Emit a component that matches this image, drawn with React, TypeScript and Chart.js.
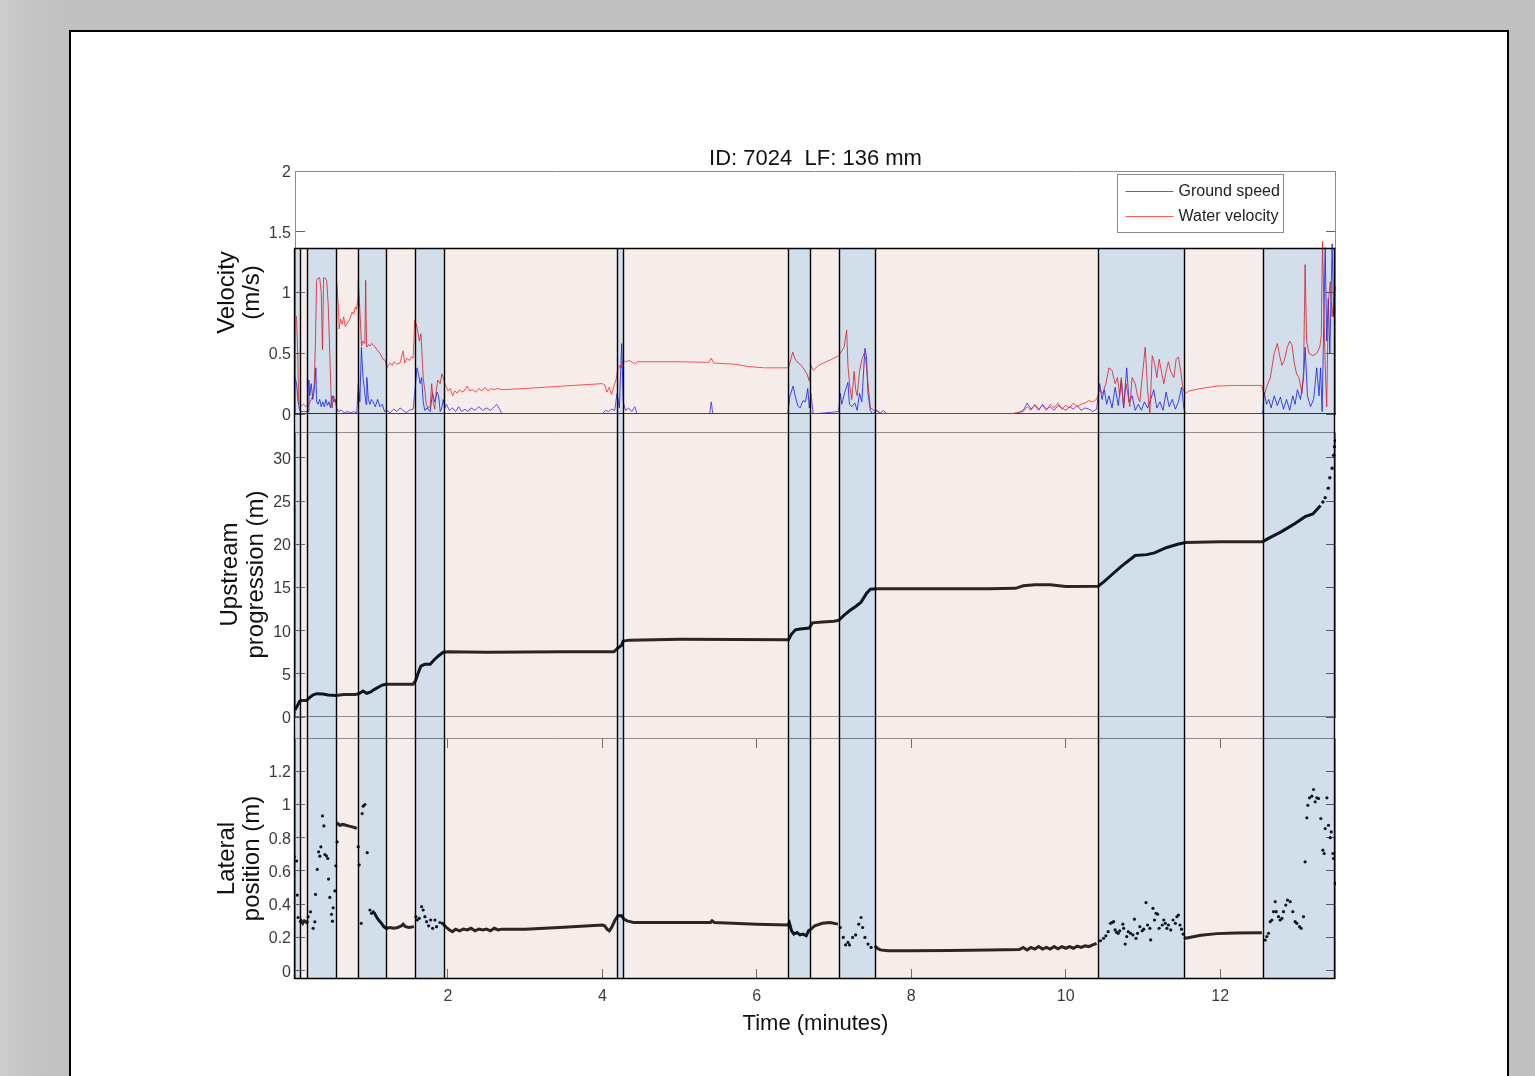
import React, { useEffect, useRef } from "react";
import { Chart, registerables } from "chart.js";

Chart.register(...registerables);

// ---------------- data ----------------
const chartTitle = "ID: 7024  LF: 136 mm";
const legendLabels = ["Ground speed", "Water velocity"];
const velocityTitle = ["Velocity", "(m/s)"];
const upstreamTitle = ["Upstream", "progression (m)"];
const lateralTitle = ["Lateral", "position (m)"];
const timeTitle = "Time (minutes)";

const timeRange = [0.02, 13.5];
const velocityRange = [0, 2];
const upstreamRange = [0, 33];
const lateralRange = [-0.05, 1.4];

const timeTicks = [2, 4, 6, 8, 10, 12];
const velocityTicks = [0, 0.5, 1, 1.5, 2];
const upstreamTicks = [0, 5, 10, 15, 20, 25, 30];
const lateralTicks = [0, 0.2, 0.4, 0.6, 0.8, 1, 1.2];

// behaviour phases (minutes): alternating swimming (blue) / holding (pink)
const bandEdges = [0.01, 0.087, 0.18, 0.55, 0.83, 1.2, 1.58, 1.95, 4.19, 4.27, 6.41, 6.69, 7.06, 7.53, 10.42, 11.53, 12.55, 13.48];
const bandKinds = ["swim", "hold", "swim", "hold", "swim", "hold", "swim", "hold", "swim", "hold", "swim", "hold", "swim", "hold", "swim", "hold", "swim"];
const bandTopVelocity = 1.366;

const groundSpeed: [number, number][] = [
  [0.02, 0.3], [0.04, 0.25], [0.06, 0.1], [0.08, 0.03], [0.1, 0.02], [0.15, 0.02], [0.19, 0.02], [0.2, 0.28], [0.21, 0.15], [0.23, 0.25], [0.25, 0.12], [0.27, 0.2], [0.29, 0.38], [0.3, 0.1], [0.32, 0.08], [0.34, 0.12], [0.36, 0.06], [0.38, 0.1], [0.4, 0.06], [0.42, 0.12], [0.44, 0.07], [0.46, 0.1], [0.48, 0.05], [0.5, 0.15], [0.52, 0.1], [0.54, 0.12], [0.56, 0.05],
  [0.58, 0.02], [0.62, 0.03], [0.66, 0.01], [0.7, 0.02], [0.74, 0.01], [0.78, 0.02], [0.82, 0.01], [0.84, 0.25], [0.86, 0.1], [0.88, 0.55], [0.9, 0.3], [0.92, 0.2], [0.94, 0.08], [0.95, 0.3], [0.97, 0.12], [0.99, 0.08], [1.01, 0.12], [1.03, 0.1], [1.06, 0.06], [1.09, 0.12], [1.12, 0.06], [1.15, 0.08], [1.18, 0.02],
  [1.21, 0.03], [1.25, 0.01], [1.3, 0.04], [1.34, 0.02], [1.38, 0.05], [1.42, 0.03], [1.46, 0.01], [1.5, 0.03], [1.55, 0.04], [1.57, 0.17], [1.6, 0.38], [1.62, 0.33], [1.64, 0.25], [1.66, 0.3], [1.68, 0.1], [1.7, 0.03], [1.73, 0.05], [1.77, 0.02], [1.8, 0.17], [1.83, 0.1], [1.86, 0.18], [1.88, 0.15], [1.9, 0.02], [1.92, 0.05], [1.94, 0.12], [1.96, 0.05], [1.98, 0.08],
  [2.02, 0.03], [2.06, 0.05], [2.1, 0.02], [2.14, 0.06], [2.18, 0.02], [2.22, 0.04], [2.26, 0.02], [2.3, 0.05], [2.35, 0.03], [2.4, 0.06], [2.45, 0.03], [2.5, 0.05], [2.55, 0.03], [2.6, 0.06], [2.63, 0.08], [2.67, 0.04], [2.7, 0], [4.0, 0], [4.04, 0.03], [4.08, 0.02], [4.12, 0.04], [4.16, 0.03], [4.19, 0.17], [4.22, 0.05], [4.25, 0.58], [4.27, 0.1], [4.3, 0.03], [4.34, 0.05], [4.38, 0.02], [4.42, 0.06], [4.45, 0],
  [5.39, 0], [5.41, 0.1], [5.43, 0], [6.4, 0], [6.43, 0.15], [6.47, 0.23], [6.5, 0.14], [6.53, 0.07], [6.56, 0.05], [6.6, 0.11], [6.63, 0.1], [6.66, 0.21], [6.68, 0.05], [6.7, 0.17], [6.73, 0], [7.06, 0.02], [7.08, 0.17], [7.1, 0.08], [7.14, 0.18], [7.18, 0.26], [7.2, 0.08], [7.23, 0.06], [7.27, 0.09], [7.3, 0.03], [7.33, 0.17], [7.36, 0.1], [7.4, 0.54], [7.42, 0.47], [7.44, 0.17], [7.47, 0.03], [7.5, 0], [7.55, 0.03], [7.6, 0.01], [7.64, 0.03], [7.68, 0],
  [9.35, 0], [9.45, 0.03], [9.5, 0.09], [9.55, 0.04], [9.6, 0.07], [9.65, 0.03], [9.7, 0.08], [9.75, 0.04], [9.8, 0.06], [9.85, 0.03], [9.9, 0.07], [9.95, 0.05], [10.0, 0.03], [10.05, 0.06], [10.1, 0.04], [10.15, 0.07], [10.2, 0.03], [10.25, 0.05], [10.3, 0.04], [10.35, 0.02], [10.4, 0.04],
  [10.44, 0.25], [10.47, 0.12], [10.5, 0.2], [10.53, 0.08], [10.56, 0.15], [10.6, 0.05], [10.64, 0.22], [10.68, 0.07], [10.72, 0.28], [10.75, 0.05], [10.79, 0.38], [10.82, 0.1], [10.86, 0.15], [10.9, 0.03], [10.94, 0.08], [10.98, 0.03], [11.02, 0.1], [11.06, 0.05], [11.1, 0.12], [11.14, 0.2], [11.18, 0.05], [11.22, 0.1], [11.26, 0.03], [11.3, 0.18], [11.34, 0.06], [11.38, 0.12], [11.42, 0.04], [11.46, 0.1], [11.5, 0.22], [11.53, 0.05], [11.55, 0],
  [12.55, 0], [12.57, 0.18], [12.6, 0.08], [12.63, 0.12], [12.66, 0.05], [12.7, 0.15], [12.74, 0.07], [12.78, 0.14], [12.82, 0.04], [12.86, 0.12], [12.9, 0.03], [12.94, 0.15], [12.97, 0.08], [13.0, 0.2], [13.04, 0.12], [13.08, 0.3], [13.1, 0.55], [13.13, 0.15], [13.17, 0.06], [13.21, 0.12], [13.25, 0.38], [13.28, 0.15], [13.3, 0.38], [13.32, 0.02], [13.36, 1.37], [13.38, 0.6], [13.4, 0.95], [13.42, 0.5], [13.45, 1.4], [13.47, 0.8], [13.49, 1.05],
];

const waterVelocity: [number, number][] = [
  [0.02, 0.82], [0.04, 0.8], [0.055, 0.5], [0.07, 0.09], [0.1, 0.07], [0.13, 0.08], [0.16, 0.06], [0.2, 0.08], [0.23, 0.12], [0.25, 0.15], [0.27, 0.25], [0.285, 0.6], [0.3, 1.1], [0.32, 1.12], [0.34, 1.12], [0.36, 1.0], [0.376, 0.53], [0.39, 1.12], [0.41, 1.12], [0.43, 1.1], [0.45, 0.9], [0.47, 0.5], [0.49, 0.1], [0.5, 0.05], [0.52, 0.15], [0.54, 0.1], [0.556, 0.12],
  [0.56, 1.08], [0.58, 0.9], [0.592, 0.7], [0.61, 0.78], [0.63, 0.74], [0.65, 0.8], [0.67, 0.72], [0.7, 0.75], [0.73, 0.78], [0.76, 0.84], [0.78, 0.82], [0.8, 0.88], [0.817, 0.86],
  [0.835, 0.95], [0.84, 1.1], [0.86, 0.85], [0.882, 0.56], [0.9, 0.6], [0.925, 0.58], [0.935, 1.1], [0.947, 0.55], [0.97, 0.57], [0.99, 0.56], [1.01, 0.58], [1.03, 0.57], [1.06, 0.55], [1.09, 0.52], [1.12, 0.5], [1.16, 0.45], [1.19, 0.44],
  [1.21, 0.38], [1.25, 0.42], [1.28, 0.4], [1.3, 0.43], [1.34, 0.41], [1.38, 0.42], [1.42, 0.52], [1.44, 0.42], [1.47, 0.46], [1.5, 0.44], [1.53, 0.47], [1.55, 0.46],
  [1.57, 0.77], [1.59, 0.74], [1.61, 0.68], [1.63, 0.6], [1.65, 0.66], [1.66, 0.55], [1.68, 0.3], [1.7, 0.2], [1.72, 0.08], [1.74, 0.05], [1.77, 0.06], [1.79, 0.25], [1.81, 0.1], [1.83, 0.04], [1.85, 0.2], [1.87, 0.28], [1.9, 0.25], [1.92, 0.33], [1.94, 0.3],
  [1.96, 0.25], [1.98, 0.22], [2.0, 0.19], [2.03, 0.21], [2.06, 0.15], [2.09, 0.19], [2.12, 0.17], [2.15, 0.2], [2.18, 0.18], [2.21, 0.19], [2.25, 0.23], [2.28, 0.19], [2.32, 0.2], [2.36, 0.18], [2.4, 0.21], [2.44, 0.19], [2.48, 0.22], [2.52, 0.19], [2.56, 0.21], [2.6, 0.2], [2.65, 0.21], [2.7, 0.2], [3.0, 0.21], [3.5, 0.23], [4.0, 0.25],
  [4.03, 0.24], [4.06, 0.18], [4.09, 0.22], [4.12, 0.16], [4.15, 0.23], [4.18, 0.29], [4.2, 0.37], [4.23, 0.4], [4.25, 0.38], [4.27, 0.44], [4.3, 0.43], [4.34, 0.44], [4.38, 0.43], [4.42, 0.41], [4.45, 0.43], [5.0, 0.43], [5.38, 0.425], [5.41, 0.46], [5.44, 0.42], [5.7, 0.41], [5.9, 0.39], [6.1, 0.38], [6.41, 0.38],
  [6.44, 0.45], [6.465, 0.51], [6.49, 0.46], [6.52, 0.43], [6.56, 0.41], [6.6, 0.38], [6.65, 0.33], [6.68, 0.27], [6.7, 0.4], [6.73, 0.36], [6.8, 0.4], [6.9, 0.43], [7.0, 0.46], [7.06, 0.48], [7.1, 0.52], [7.13, 0.55], [7.164, 0.69], [7.18, 0.4], [7.2, 0.25], [7.23, 0.12], [7.26, 0.35], [7.28, 0.2], [7.3, 0.15], [7.33, 0.35], [7.36, 0.45], [7.39, 0.5], [7.41, 0.45], [7.44, 0.25], [7.47, 0.05], [7.52, 0.03], [7.56, 0.02], [7.6, 0.01], [7.65, 0],
  [9.3, 0], [9.35, 0.01], [9.45, 0.02], [9.5, 0.06], [9.55, 0.03], [9.6, 0.08], [9.65, 0.04], [9.7, 0.07], [9.75, 0.03], [9.8, 0.08], [9.85, 0.05], [9.9, 0.09], [9.95, 0.04], [10.0, 0.07], [10.05, 0.05], [10.1, 0.09], [10.15, 0.06], [10.2, 0.08], [10.25, 0.09], [10.3, 0.11], [10.35, 0.1], [10.4, 0.12],
  [10.44, 0.2], [10.48, 0.17], [10.52, 0.25], [10.56, 0.38], [10.6, 0.36], [10.64, 0.25], [10.67, 0.3], [10.7, 0.15], [10.72, 0.3], [10.75, 0.05], [10.78, 0.25], [10.8, 0.18], [10.83, 0.06], [10.86, 0.3], [10.9, 0.25], [10.93, 0.15], [10.96, 0.1], [10.99, 0.3], [11.03, 0.55], [11.06, 0.2], [11.09, 0], [11.12, 0.48], [11.15, 0.42], [11.18, 0.3], [11.21, 0.45], [11.24, 0.35], [11.27, 0.25], [11.3, 0.35], [11.33, 0.43], [11.36, 0.35], [11.4, 0.3], [11.43, 0.45], [11.46, 0.47], [11.49, 0.35], [11.52, 0.2],
  [11.55, 0.17], [11.6, 0.19], [11.75, 0.21], [11.96, 0.23], [12.2, 0.235], [12.54, 0.235],
  [12.57, 0.15], [12.6, 0.22], [12.65, 0.3], [12.7, 0.5], [12.74, 0.58], [12.77, 0.48], [12.8, 0.4], [12.83, 0.44], [12.87, 0.55], [12.9, 0.6], [12.93, 0.57], [12.96, 0.42], [12.99, 0.33], [13.02, 0.3], [13.06, 0.17], [13.08, 0.35], [13.1, 1.23], [13.12, 0.6], [13.15, 0.5], [13.2, 0.48], [13.25, 0.5], [13.29, 0.55], [13.31, 0.65], [13.325, 1.42], [13.34, 1.0], [13.36, 0.4], [13.38, 0.06], [13.4, 0.9], [13.425, 1.09], [13.45, 0.8], [13.47, 0.95], [13.49, 0.85],
];

const upstreamTrack: [number, number][] = [
  [0.02, 0.8], [0.05, 1.3], [0.08, 1.8], [0.1, 1.9], [0.17, 1.9], [0.2, 2.2], [0.25, 2.55], [0.3, 2.7], [0.38, 2.65], [0.45, 2.55], [0.55, 2.5], [0.65, 2.6], [0.8, 2.6], [0.85, 2.7], [0.9, 3.0], [0.95, 2.75], [1.0, 2.9], [1.05, 3.2], [1.15, 3.7], [1.2, 3.8], [1.55, 3.8],
  [1.58, 4.2], [1.62, 5.2], [1.65, 5.9], [1.7, 6.1], [1.77, 6.1], [1.82, 6.6], [1.88, 7.1], [1.94, 7.5], [2.0, 7.55], [2.5, 7.5], [3.5, 7.55], [4.15, 7.55], [4.2, 8.0], [4.25, 8.3], [4.27, 8.8], [4.35, 8.9], [5.0, 9.0], [6.41, 8.95],
  [6.45, 9.6], [6.5, 10.1], [6.56, 10.2], [6.68, 10.3], [6.72, 10.9], [6.85, 11.0], [7.0, 11.1], [7.06, 11.2], [7.12, 11.7], [7.2, 12.3], [7.28, 12.8], [7.35, 13.3], [7.42, 14.3], [7.47, 14.8], [7.55, 14.85], [9.0, 14.85], [9.35, 14.9], [9.45, 15.2], [9.6, 15.3], [9.8, 15.3], [10.0, 15.1], [10.42, 15.15],
  [10.5, 15.7], [10.6, 16.5], [10.7, 17.3], [10.8, 18.0], [10.9, 18.7], [11.05, 18.8], [11.15, 19.0], [11.3, 19.6], [11.45, 20.0], [11.55, 20.2], [12.0, 20.3], [12.55, 20.3], [12.65, 20.8], [12.8, 21.5], [12.95, 22.3], [13.1, 23.2], [13.2, 23.5], [13.25, 24.0], [13.3, 24.5],
];
const upstreamDots: [number, number][] = [
  [13.33, 24.9], [13.36, 25.4], [13.4, 26.5], [13.42, 27.7], [13.45, 28.8], [13.47, 30.3], [13.48, 31.3], [13.49, 32.0],
];

const lateralTrack: [number, number | null][] = [
  [0.08, 0.29], [0.1, 0.3], [0.12, 0.285], [0.14, 0.3], [0.17, 0.29], [0.19, 0.3], [0.2, null],
  [0.56, 0.89], [0.6, 0.875], [0.64, 0.88], [0.68, 0.875], [0.72, 0.87], [0.76, 0.865], [0.8, 0.86], [0.82, 0.855], [0.83, null],
  [1.02, 0.36], [1.05, 0.345], [1.08, 0.32], [1.11, 0.3], [1.14, 0.285], [1.17, 0.265], [1.2, 0.255], [1.25, 0.26], [1.3, 0.255], [1.35, 0.26], [1.4, 0.27], [1.42, 0.28], [1.45, 0.265], [1.5, 0.26], [1.56, 0.265], [1.58, null],
  [1.94, 0.28], [1.98, 0.26], [2.02, 0.245], [2.06, 0.235], [2.1, 0.25], [2.15, 0.24], [2.2, 0.25], [2.25, 0.245], [2.3, 0.255], [2.35, 0.24], [2.4, 0.25], [2.45, 0.245], [2.5, 0.25], [2.55, 0.24], [2.6, 0.255], [2.65, 0.245], [2.7, 0.25], [3.0, 0.25], [3.5, 0.262], [4.0, 0.275],
  [4.03, 0.27], [4.06, 0.25], [4.09, 0.24], [4.12, 0.26], [4.16, 0.3], [4.2, 0.33], [4.25, 0.33], [4.28, 0.31], [4.32, 0.3], [4.36, 0.295], [4.4, 0.29], [5.4, 0.29], [5.42, 0.3], [5.45, 0.29], [6.0, 0.28], [6.4, 0.275],
  [6.42, 0.29], [6.45, 0.24], [6.48, 0.22], [6.52, 0.23], [6.56, 0.215], [6.6, 0.22], [6.64, 0.21], [6.67, 0.24], [6.7, 0.25], [6.75, 0.27], [6.85, 0.285], [6.95, 0.29], [7.05, 0.28], [7.06, null],
  [7.53, 0.15], [7.56, 0.135], [7.6, 0.125], [7.7, 0.12], [8.0, 0.12], [8.5, 0.122], [9.0, 0.125], [9.4, 0.127], [9.45, 0.14], [9.5, 0.125], [9.55, 0.14], [9.6, 0.13], [9.65, 0.145], [9.7, 0.13], [9.75, 0.14], [9.8, 0.13], [9.85, 0.145], [9.9, 0.132], [9.95, 0.145], [10.0, 0.135], [10.05, 0.145], [10.1, 0.135], [10.15, 0.148], [10.2, 0.14], [10.25, 0.15], [10.3, 0.145], [10.35, 0.155], [10.4, 0.165], [10.42, null],
  [11.53, 0.2], [11.56, 0.195], [11.6, 0.2], [11.75, 0.213], [11.96, 0.223], [12.2, 0.227], [12.54, 0.228],
];

const lateralDots: [number, number][] = [
  [0.01, 0.685], [0.04, 0.66], [0.05, 0.455], [0.06, 0.32],
  [0.19, 0.324], [0.221, 0.354], [0.255, 0.255], [0.277, 0.294], [0.286, 0.459], [0.308, 0.609], [0.325, 0.715], [0.342, 0.689], [0.355, 0.745], [0.376, 0.931], [0.394, 0.871], [0.407, 0.699], [0.428, 0.69], [0.445, 0.675], [0.454, 0.551], [0.471, 0.441], [0.493, 0.339], [0.505, 0.298], [0.514, 0.378], [0.536, 0.48], [0.549, 0.631], [0.566, 0.775],
  [0.838, 0.745], [0.851, 0.637], [0.877, 0.285], [0.89, 0.945], [0.903, 0.99], [0.925, 1.0], [0.955, 0.71], [0.99, 0.365], [1.011, 0.345],
  [1.585, 0.325], [1.603, 0.305], [1.629, 0.315], [1.659, 0.385], [1.68, 0.365], [1.702, 0.325], [1.724, 0.295], [1.75, 0.27], [1.776, 0.305], [1.802, 0.255], [1.832, 0.305], [1.853, 0.265], [1.896, 0.29], [1.93, 0.285],
  [7.08, 0.26], [7.12, 0.2], [7.15, 0.155], [7.18, 0.17], [7.2, 0.155], [7.24, 0.2], [7.28, 0.215], [7.32, 0.28], [7.35, 0.32], [7.37, 0.26], [7.4, 0.2], [7.44, 0.16], [7.48, 0.14],
  [10.45, 0.18], [10.49, 0.195], [10.52, 0.21], [10.55, 0.235], [10.58, 0.285], [10.6, 0.29], [10.62, 0.295], [10.64, 0.245], [10.66, 0.23], [10.68, 0.225], [10.7, 0.24], [10.74, 0.28], [10.75, 0.255], [10.77, 0.16], [10.79, 0.205], [10.81, 0.235], [10.84, 0.225], [10.87, 0.215], [10.89, 0.31], [10.91, 0.195], [10.93, 0.225], [10.96, 0.265], [10.99, 0.24], [11.01, 0.25], [11.04, 0.41], [11.06, 0.275], [11.09, 0.255], [11.1, 0.185], [11.13, 0.375], [11.15, 0.305], [11.17, 0.345], [11.19, 0.34], [11.21, 0.255], [11.25, 0.275], [11.27, 0.305], [11.29, 0.285], [11.31, 0.255], [11.33, 0.275], [11.36, 0.245], [11.39, 0.305], [11.42, 0.285], [11.44, 0.325], [11.46, 0.335], [11.48, 0.275], [11.5, 0.25], [11.52, 0.22],
  [12.583, 0.184], [12.604, 0.205], [12.626, 0.225], [12.648, 0.295], [12.67, 0.305], [12.691, 0.355], [12.713, 0.415], [12.726, 0.355], [12.756, 0.325], [12.777, 0.305], [12.799, 0.315], [12.82, 0.355], [12.85, 0.395], [12.872, 0.425], [12.907, 0.415], [12.941, 0.355], [12.971, 0.295], [12.993, 0.285], [13.028, 0.265], [13.049, 0.255], [13.079, 0.325],
  [13.1, 0.655], [13.122, 0.92], [13.135, 0.995], [13.157, 1.04], [13.187, 1.05], [13.209, 1.09], [13.23, 1.016], [13.252, 1.04], [13.274, 1.036], [13.304, 0.915], [13.33, 0.725], [13.347, 0.705], [13.36, 0.855], [13.382, 1.04], [13.403, 0.875], [13.425, 0.8], [13.438, 0.835], [13.46, 0.705], [13.468, 0.675], [13.49, 0.525],
];

// ---------------- styles ----------------
const FONT = '"Liberation Sans", Arial, Helvetica, sans-serif';
const TICK_TEXT = "#3a3a3a";
const TICK_MARK = "#606060";
const FRAME = "#8a8a8a";
const GROUND_COLOR = "rgba(20,20,255,0.8)";
const WATER_COLOR = "rgba(255,20,20,0.8)";
const LEGEND_COLORS = ["rgba(60,60,255,0.85)", "rgba(255,60,60,0.85)"];
const TRACK_COLOR = "#0c0c0c";
const SWIM_FILL = "rgba(11,72,144,0.18)";
const HOLD_FILL = "rgba(205,149,138,0.18)";
const PAGE_W = 1535;

const pts = (arr: [number, number | null][]) => arr.map(([x, y]) => ({ x, y }));
const fmt = (v: number) => String(Math.round(Number(v) * 100) / 100);

function bandsPlugin(getTop: (c: any) => number, getBottom: (c: any) => number, topLine: boolean, bottomLine: boolean) {
  return {
    id: "phaseBands",
    afterDatasetsDraw(chart: any) {
      const { ctx } = chart;
      const xs = chart.scales.x;
      const y0 = getTop(chart);
      const y1 = getBottom(chart);
      ctx.save();
      for (let i = 0; i < bandKinds.length; i++) {
        const a = xs.getPixelForValue(bandEdges[i]);
        const b = xs.getPixelForValue(bandEdges[i + 1]);
        ctx.fillStyle = bandKinds[i] === "swim" ? SWIM_FILL : HOLD_FILL;
        ctx.fillRect(a, y0, b - a, y1 - y0);
      }
      ctx.strokeStyle = "#000";
      ctx.lineWidth = 1.4;
      ctx.beginPath();
      for (const e of bandEdges) {
        const x = Math.round(xs.getPixelForValue(e)) + 0.5;
        ctx.moveTo(x, y0);
        ctx.lineTo(x, y1);
      }
      const xa = xs.getPixelForValue(bandEdges[0]);
      const xb = xs.getPixelForValue(bandEdges[bandEdges.length - 1]);
      if (topLine) {
        ctx.moveTo(xa, Math.round(y0) + 0.5);
        ctx.lineTo(xb + 1, Math.round(y0) + 0.5);
      }
      if (bottomLine) {
        ctx.moveTo(xa, Math.round(y1) - 0.5);
        ctx.lineTo(xb + 1, Math.round(y1) - 0.5);
      }
      ctx.stroke();
      ctx.restore();
    },
  };
}

function framePlugin(bottomColor: string) {
  return {
    id: "axesFrame",
    beforeDatasetsDraw(chart: any) {
      const { ctx, chartArea } = chart;
      const { left, right, top, bottom } = chartArea;
      ctx.save();
      ctx.lineWidth = 1;
      ctx.strokeStyle = FRAME;
      ctx.beginPath();
      ctx.moveTo(Math.round(left) + 0.5, bottom);
      ctx.lineTo(Math.round(left) + 0.5, Math.round(top) + 0.5);
      ctx.lineTo(Math.round(right) - 0.5, Math.round(top) + 0.5);
      ctx.lineTo(Math.round(right) - 0.5, bottom);
      ctx.stroke();
      ctx.strokeStyle = bottomColor;
      ctx.beginPath();
      ctx.moveTo(left, Math.round(bottom) - 0.5);
      ctx.lineTo(right, Math.round(bottom) - 0.5);
      ctx.stroke();
      ctx.restore();
    },
  };
}

const legendPlugin = {
  id: "boxLegend",
  afterDraw(chart: any) {
    const { ctx, chartArea } = chart;
    const w = 166;
    const h = 58;
    const left = Math.round(chartArea.right - 53 - w) + 0.5;
    const top = Math.round(chartArea.top + 3) + 0.5;
    ctx.save();
    ctx.fillStyle = "#fff";
    ctx.fillRect(left, top, w, h);
    ctx.strokeStyle = "#8a8a8a";
    ctx.lineWidth = 1;
    ctx.strokeRect(left, top, w, h);
    ctx.font = `16px ${FONT}`;
    ctx.textBaseline = "middle";
    legendLabels.forEach((label, i) => {
      const y = Math.round(top + 16 + i * 25.5) + 0.5;
      ctx.strokeStyle = LEGEND_COLORS[i];
      ctx.lineWidth = 1;
      ctx.beginPath();
      ctx.moveTo(left + 8, y);
      ctx.lineTo(left + 56, y);
      ctx.stroke();
      ctx.fillStyle = "#222";
      ctx.fillText(label, left + 61, y);
    });
    ctx.restore();
  },
};

function tickList(values: number[]) {
  return (s: any) => {
    s.ticks = values.map((value) => ({ value }));
  };
}

function leftAxis(range: number[], ticks: number[], title: string[], lineHeight: number, titlePad: number) {
  return {
    type: "linear",
    position: "left",
    min: range[0],
    max: range[1],
    afterBuildTicks: tickList(ticks),
    afterFit: (s: any) => {
      s.width = 100;
      s.paddingTop = 0;
      s.paddingBottom = 0;
    },
    ticks: { font: { family: FONT, size: 16 }, color: TICK_TEXT, padding: 14, labelOffset: 1.5, callback: (v: any) => fmt(v) },
    grid: { drawOnChartArea: false, tickLength: -10, color: TICK_MARK },
    border: { display: false },
    title: {
      display: true,
      text: title,
      color: "#111",
      font: { family: FONT, size: 24, lineHeight },
      padding: { top: titlePad, bottom: 0 },
    },
  };
}

function rightAxis(range: number[], ticks: number[]) {
  return {
    type: "linear",
    position: "right",
    min: range[0],
    max: range[1],
    afterBuildTicks: tickList(ticks),
    afterFit: (s: any) => {
      s.width = 10;
      s.paddingTop = 0;
      s.paddingBottom = 0;
    },
    ticks: { display: false },
    grid: { drawOnChartArea: false, tickLength: -10, color: TICK_MARK },
    border: { display: false },
  };
}

const hiddenX = { type: "linear", min: timeRange[0], max: timeRange[1], display: false };

const baseOptions = (padding: any) => ({
  animation: false,
  responsive: false,
  events: [],
  layout: { padding },
});

function velocityConfig(): any {
  return {
    type: "line",
    data: {
      datasets: [
        { label: legendLabels[1], data: pts(waterVelocity), borderColor: WATER_COLOR, borderWidth: 1, pointRadius: 0, tension: 0, order: 0 },
        { label: legendLabels[0], data: pts(groundSpeed), borderColor: GROUND_COLOR, borderWidth: 1, pointRadius: 0, tension: 0, order: 1 },
      ],
    },
    options: {
      ...baseOptions({ top: 0, left: 195, right: 189, bottom: 9 }),
      scales: {
        x: hiddenX,
        y: leftAxis(velocityRange, velocityTicks, velocityTitle, 1.05, 20),
        yRight: rightAxis(velocityRange, velocityTicks),
      },
      plugins: {
        legend: { display: false },
        tooltip: { enabled: false },
        title: {
          display: true,
          text: chartTitle,
          fullSize: false,
          color: "#111",
          font: { family: FONT, size: 22, weight: "normal", lineHeight: 1.1 },
          padding: { top: 46.4, bottom: 0.4 },
        },
      },
    },
    plugins: [
      framePlugin("#2a2a2a"),
      bandsPlugin((c) => c.scales.y.getPixelForValue(bandTopVelocity), (c) => c.height, true, false),
      legendPlugin,
    ],
  };
}

function upstreamConfig(): any {
  return {
    type: "line",
    data: {
      datasets: [
        { label: "Upstream progression", data: pts(upstreamTrack), borderColor: TRACK_COLOR, borderWidth: 3, pointRadius: 0, tension: 0 },
        { label: "Upstream progression (sparse)", data: pts(upstreamDots), showLine: false, pointRadius: 1.7, pointBorderWidth: 0, pointBackgroundColor: TRACK_COLOR },
      ],
    },
    options: {
      ...baseOptions({ top: 9, left: 195, right: 189, bottom: 10 }),
      scales: {
        x: hiddenX,
        y: leftAxis(upstreamRange, upstreamTicks, upstreamTitle, 1.1, 22),
        yRight: rightAxis(upstreamRange, upstreamTicks),
      },
      plugins: { legend: { display: false }, tooltip: { enabled: false } },
    },
    plugins: [framePlugin(FRAME), bandsPlugin(() => 0, (c) => c.height, false, false)],
  };
}

function lateralConfig(): any {
  return {
    type: "line",
    data: {
      datasets: [
        { label: "Lateral position", data: pts(lateralTrack), borderColor: TRACK_COLOR, borderWidth: 3, pointRadius: 0, tension: 0, spanGaps: false },
        { label: "Lateral position (sparse)", data: pts(lateralDots), showLine: false, pointRadius: 1.6, pointBorderWidth: 0, pointBackgroundColor: TRACK_COLOR },
      ],
    },
    options: {
      ...baseOptions({ top: 11, left: 195, right: 189, bottom: 17 }),
      scales: {
        x: {
          type: "linear",
          position: "bottom",
          min: timeRange[0],
          max: timeRange[1],
          afterBuildTicks: tickList(timeTicks),
          afterFit: (s: any) => {
            s.height = 80;
            s.paddingLeft = 0;
            s.paddingRight = 0;
          },
          ticks: { font: { family: FONT, size: 16 }, color: TICK_TEXT, padding: 18, maxRotation: 0, autoSkip: false, callback: (v: any) => fmt(v) },
          grid: { drawOnChartArea: false, tickLength: -10, color: TICK_MARK },
          border: { display: false },
          title: {
            display: true,
            text: timeTitle,
            color: "#111",
            font: { family: FONT, size: 22, lineHeight: 1.2 },
            padding: { top: 0, bottom: 22 },
          },
        },
        xTop: {
          type: "linear",
          position: "top",
          min: timeRange[0],
          max: timeRange[1],
          afterBuildTicks: tickList(timeTicks),
          afterFit: (s: any) => {
            s.height = 0;
            s.paddingLeft = 0;
            s.paddingRight = 0;
          },
          ticks: { display: false },
          grid: { drawOnChartArea: false, tickLength: -10, color: TICK_MARK },
          border: { display: false },
        },
        y: leftAxis(lateralRange, lateralTicks, lateralTitle, 1.05, 20),
        yRight: rightAxis(lateralRange, lateralTicks),
      },
      plugins: { legend: { display: false }, tooltip: { enabled: false } },
    },
    plugins: [framePlugin(FRAME), bandsPlugin(() => 0, (c) => c.chartArea.bottom, false, true)],
  };
}

function Panel({ top, height, build }: { top: number; height: number; build: () => any }) {
  const ref = useRef<HTMLCanvasElement | null>(null);
  useEffect(() => {
    const chart = new Chart(ref.current as HTMLCanvasElement, build());
    return () => chart.destroy();
  }, []);
  return (
    <canvas
      ref={ref}
      width={PAGE_W}
      height={height}
      style={{ position: "absolute", left: 0, top, width: PAGE_W, height, display: "block" }}
    />
  );
}

export default function App() {
  return (
    <div
      style={{
        position: "fixed",
        left: 0,
        top: 0,
        width: PAGE_W,
        height: 1076,
        overflow: "hidden",
        background: "linear-gradient(to right, #cdcdcd 0px, #c3c3c3 40px, #c0c0c0 70px)",
      }}
    >
      <div
        style={{
          position: "absolute",
          left: 69,
          top: 30,
          width: 1440,
          height: 1100,
          boxSizing: "border-box",
          border: "2px solid #000",
          background: "#fff",
        }}
      />
      <Panel top={100} height={323} build={velocityConfig} />
      <Panel top={423} height={304} build={upstreamConfig} />
      <Panel top={727} height={349} build={lateralConfig} />
    </div>
  );
}
